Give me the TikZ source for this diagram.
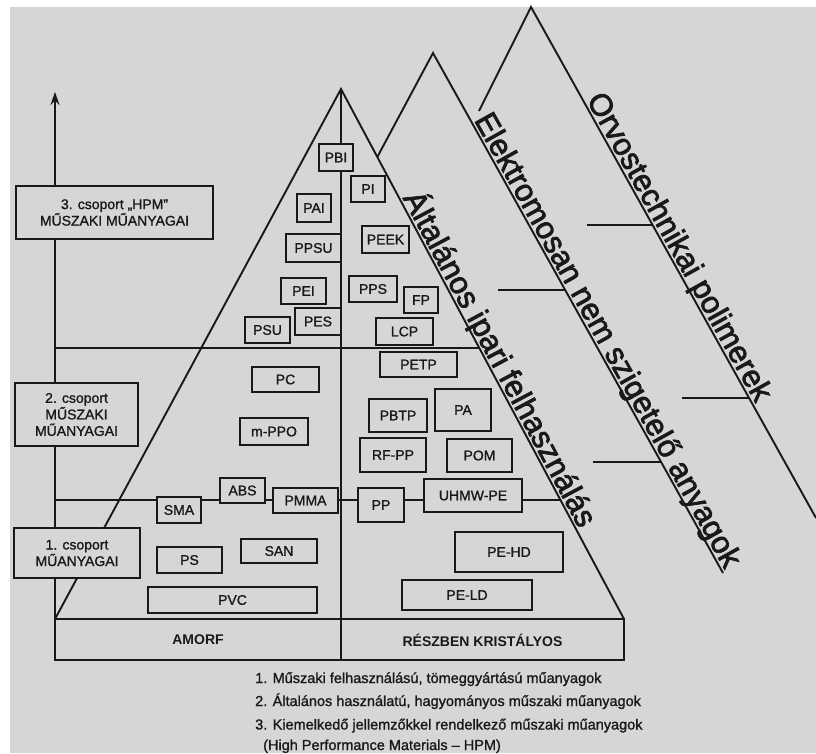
\documentclass[tikz,border=0pt]{standalone}
\usepackage{fontspec}
\setmainfont{Liberation Sans}
\newfontfamily\lblfont{Liberation Sans}[FakeBold=2.5]
\newfontfamily\boxfont{Liberation Sans}[FakeBold=1.2]
\usetikzlibrary{arrows.meta,calc}
\definecolor{bg}{RGB}{214,214,212}
\definecolor{ink}{RGB}{25,25,25}
\newcommand\pbox[6]{\node[bx,minimum width=#4pt,minimum height=#5pt] (#1) at (#2,#3) {#6};}
\begin{document}
\begin{tikzpicture}[x=1pt,y=-1pt,
 ln/.style={draw=ink,line width=1.9pt},
 bx/.style={draw=ink,line width=2.2pt,fill=bg,inner sep=0pt,text=ink,font=\boxfont\fontsize{14}{16.5}\selectfont,align=center},
 lbl/.style={text=ink,inner sep=0pt,font=\lblfont\fontsize{31}{36}\selectfont,anchor=base},
 captxt/.style={text=ink,inner sep=0pt,font=\boxfont\fontsize{14.5}{17}\selectfont,anchor=base west},
 tb/.style={text=ink,inner sep=0pt,font=\bfseries\fontsize{14}{16}\selectfont}]
\useasboundingbox (0,0) rectangle (816,753);
\fill[white] (0,0) rectangle (816,753);
\fill[bg] (10,7) rectangle (816,753);
% key coordinates
\coordinate (apex) at (341,89);
\coordinate (tl) at (55,619);
\coordinate (tr) at (624,619);
\coordinate (bl) at (55,660);
\coordinate (br) at (624,660);
\coordinate (cb) at (341,660);
\coordinate (axt) at (55,92);
\coordinate (g1l) at (55,348);
\coordinate (g1r) at (479.3,348);
\coordinate (g2l) at (55,500);
\coordinate (g2r) at (560.5,500);
\coordinate (apexb) at (433,53);
\coordinate (bleft) at (377.3,157);
\coordinate (bright) at (723,573);
\coordinate (apexc) at (531,7);
\coordinate (cleft) at (479,111);
\coordinate (cright) at (816,518);
\coordinate (tb1a) at (498,290);
\coordinate (tb1b) at (565.2,290);
\coordinate (tb2a) at (593,462);
\coordinate (tb2b) at (661.1,462);
\coordinate (tc1a) at (587,225);
\coordinate (tc1b) at (652.6,225);
\coordinate (tc2a) at (682,398);
\coordinate (tc2b) at (749.2,398);
% axis
\draw[ln,-{Stealth[length=13pt,width=9pt]}] (tl) -- (axt);
% main triangle and table
\draw[ln] (tl) -- (apex) -- (tr);
\draw[ln] (apex) -- (cb);
\draw[ln] (tl) -- (tr) -- (br) -- (bl) -- cycle;
\draw[ln] (g1l) -- (g1r);
\draw[ln] (g2l) -- (g2r);
% outer triangles
\draw[ln] (bleft) -- (apexb) -- (bright);
\draw[ln] (cleft) -- (apexc) -- (cright);
\draw[ln] (tb1a) -- (tb1b);
\draw[ln] (tb2a) -- (tb2b);
\draw[ln] (tc1a) -- (tc1b);
\draw[ln] (tc2a) -- (tc2b);
% rotated labels
\node[lbl,rotate=-61.9] (alt) at (491,363.7) {Általános ipari felhasználás};
\node[lbl,rotate=-60.85] (ele) at (599.3,345) {Elektromosan nem szigetelő anyagok};
\node[lbl,rotate=-60.84] (orv) at (671,251.7) {Orvostechnikai polimerek};
% group boxes
\pbox{grp3}{114.5}{212.5}{197}{53}{3. csoport „HPM”\\MŰSZAKI MŰANYAGAI}
\pbox{grp2}{76.5}{414.5}{123}{63}{2. csoport\\MŰSZAKI\\MŰANYAGAI}
\pbox{grp1}{77}{553}{126}{50}{1. csoport\\MŰANYAGAI}
% polymer boxes
\pbox{pbi}{336}{157.5}{34}{27}{PBI}
\pbox{pi}{368}{189}{34}{26}{PI}
\pbox{pai}{314}{208}{34}{28}{PAI}
\pbox{peek}{385.5}{239.5}{47}{27}{PEEK}
\pbox{ppsu}{313.5}{248}{55}{28}{PPSU}
\pbox{pei}{303.5}{291}{45}{26}{PEI}
\pbox{pps}{373}{289}{48}{26}{PPS}
\pbox{fp}{421}{300}{34}{26}{FP}
\pbox{pes}{318}{321.5}{46}{27}{PES}
\pbox{psu}{267.5}{330}{45}{26}{PSU}
\pbox{lcp}{404.5}{331.5}{57}{27}{LCP}
\pbox{petp}{418.5}{364.5}{77}{25}{PETP}
\pbox{pc}{285.5}{379.5}{67}{25}{PC}
\pbox{mppo}{274}{431.5}{68}{27}{m-PPO}
\pbox{pbtp}{398}{415.5}{58}{33}{PBTP}
\pbox{pa}{463}{410}{56}{42}{PA}
\pbox{rfpp}{393}{455}{66}{34}{RF-PP}
\pbox{pom}{479.5}{455.5}{65}{33}{POM}
\pbox{sma}{179}{510}{44}{26}{SMA}
\pbox{abs}{242.5}{490.5}{45}{25}{ABS}
\pbox{pmma}{305.5}{500.5}{65}{25}{PMMA}
\pbox{pp}{381}{505}{46}{34}{PP}
\pbox{uhmw}{473}{495.5}{98}{33}{UHMW-PE}
\pbox{ps}{189.5}{560}{65}{26}{PS}
\pbox{san}{279}{551}{76}{24}{SAN}
\pbox{pvc}{232.5}{600}{169}{26}{PVC}
\pbox{pehd}{509}{552}{108}{40}{PE-HD}
\pbox{peld}{467}{595}{130}{30}{PE-LD}
% table labels
\node[tb] (amorf) at (198,640) {AMORF};
\node[tb] (reszb) at (482.5,640) {RÉSZBEN KRISTÁLYOS};
% caption
\node[captxt] (c1) at (255,683) {1. Műszaki felhasználású, tömeggyártású műanyagok};
\node[captxt] (c2) at (255,706) {2. Általános használatú, hagyományos műszaki műanyagok};
\node[captxt] (c3) at (255,729.5) {3. Kiemelkedő jellemzőkkel rendelkező műszaki műanyagok};
\node[captxt] (c4) at (263,750) {(High Performance Materials – HPM)};
\end{tikzpicture}
\end{document}
